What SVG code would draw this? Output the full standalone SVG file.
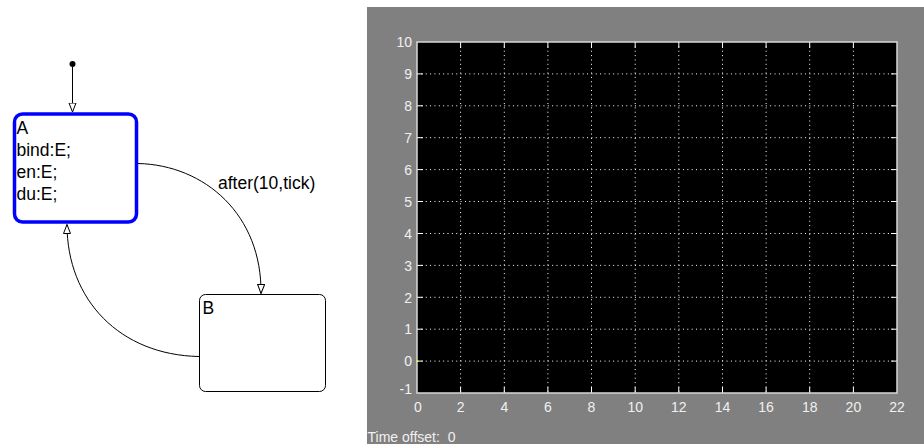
<svg xmlns="http://www.w3.org/2000/svg" width="924" height="444" viewBox="0 0 924 444">
<style>
.st{font-family:"Liberation Sans",Arial,sans-serif;font-size:17.5px;fill:#000}
.tk{font-family:"Liberation Sans",Arial,sans-serif;font-size:14px;fill:#f0f0f0}
.grid{stroke:#ffffff;stroke-width:1;stroke-dasharray:1 3.36;fill:none}
.tick{stroke:#ffffff;stroke-width:1;fill:none}
.tr{fill:none;stroke:#000;stroke-width:1}
</style>
<defs>
<marker id="arr" markerWidth="10" markerHeight="10" refX="9.5" refY="4" orient="auto" markerUnits="userSpaceOnUse">
<path d="M0.5,0.5 L9.5,4 L0.5,7.5 Z" fill="#fff" stroke="#000" stroke-width="1"/>
</marker>
</defs>
<rect x="0" y="0" width="924" height="444" fill="#fff"/>

<g id="stateA">
<rect x="14.5" y="114" width="122" height="108" rx="8" ry="8" fill="#fff" stroke="#0000ff" stroke-width="3.5"/>
<text class="st" x="16.5" y="133.5">A</text>
<text class="st" x="16.5" y="156">bind:E;</text>
<text class="st" x="16.5" y="178">en:E;</text>
<text class="st" x="16.5" y="200">du:E;</text>
</g>
<g id="stateB">
<rect x="199.5" y="294.5" width="126" height="97" rx="6" ry="6" fill="#fff" stroke="#000" stroke-width="1"/>
<text class="st" x="202.5" y="313.5">B</text>
</g>
<g id="connectors">
<circle cx="72.5" cy="64" r="3" fill="#000"/>
<path class="tr" d="M72.5,64 L72.5,112" marker-end="url(#arr)"/>
<path class="tr" d="M138,163.5 C205,165 262,215 261,293.5" marker-end="url(#arr)"/>
<text class="st" x="218" y="188.5">after(10,tick)</text>
<path class="tr" d="M199,356.5 C120,355 67,300 67,224.5" marker-end="url(#arr)"/>
</g>

<g id="scope">
<rect x="367" y="7" width="557" height="437" fill="#808080"/>
<rect x="417" y="42" width="480" height="351" fill="#000"/>
<g class="grid">
<path d="M460.6,42V393M504.3,42V393M547.9,42V393M591.5,42V393M635.2,42V393M678.8,42V393M722.5,42V393M766.1,42V393M809.7,42V393M853.4,42V393"/>
<path d="M417,361.1H897M417,329.2H897M417,297.3H897M417,265.4H897M417,233.5H897M417,201.5H897M417,169.6H897M417,137.7H897M417,105.8H897M417,73.9H897"/>
</g>
<g class="tick">
<path d="M460.6,393v-6M504.3,393v-6M547.9,393v-6M591.5,393v-6M635.2,393v-6M678.8,393v-6M722.5,393v-6M766.1,393v-6M809.7,393v-6M853.4,393v-6"/>
<path d="M460.6,42v6M504.3,42v6M547.9,42v6M591.5,42v6M635.2,42v6M678.8,42v6M722.5,42v6M766.1,42v6M809.7,42v6M853.4,42v6"/>
<path d="M417,361.1h6M417,329.2h6M417,297.3h6M417,265.4h6M417,233.5h6M417,201.5h6M417,169.6h6M417,137.7h6M417,105.8h6M417,73.9h6"/>
<path d="M897,361.1h-6M897,329.2h-6M897,297.3h-6M897,265.4h-6M897,233.5h-6M897,201.5h-6M897,169.6h-6M897,137.7h-6M897,105.8h-6M897,73.9h-6"/>
</g>
<rect x="417" y="42" width="480" height="351" fill="none" stroke="#d8d8d8" stroke-width="1.5"/>
<rect x="416.5" y="360.5" width="2" height="1.5" fill="#ffff00"/>
<g class="tk" text-anchor="end">
<text x="412" y="47">10</text>
<text x="412" y="78.5">9</text>
<text x="412" y="110.5">8</text>
<text x="412" y="142.5">7</text>
<text x="412" y="174.5">6</text>
<text x="412" y="206.5">5</text>
<text x="412" y="238.5">4</text>
<text x="412" y="270.5">3</text>
<text x="412" y="302.5">2</text>
<text x="412" y="334">1</text>
<text x="412" y="366">0</text>
<text x="412" y="394">-1</text>
</g>
<g class="tk" text-anchor="middle">
<text x="418" y="412">0</text>
<text x="460.6" y="412">2</text>
<text x="504.3" y="412">4</text>
<text x="547.9" y="412">6</text>
<text x="591.5" y="412">8</text>
<text x="635.2" y="412">10</text>
<text x="678.8" y="412">12</text>
<text x="722.5" y="412">14</text>
<text x="766.1" y="412">16</text>
<text x="809.7" y="412">18</text>
<text x="853.4" y="412">20</text>
<text x="897" y="412">22</text>
</g>
<text class="tk" x="367.5" y="441.5" xml:space="preserve">Time offset:  0</text>
</g>
</svg>
